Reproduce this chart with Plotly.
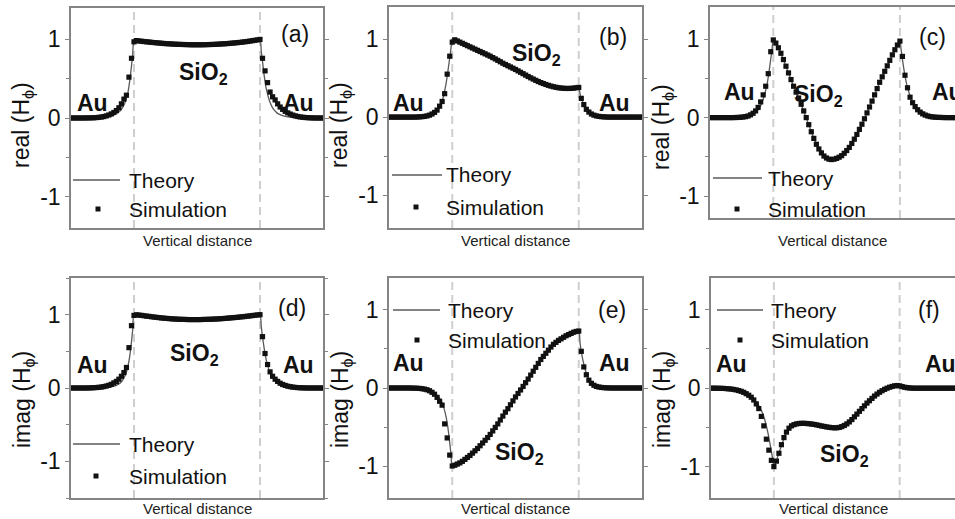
import numpy as np
import plotly.graph_objects as go

W, H = 955, 519

# Vertical cut through Au | SiO2 | Au, interfaces at 1 and 3 (arbitrary units)
sim_x = np.round(np.arange(101) * 0.04, 2)
theory_x = [0, 0.2, 0.4, 0.5, 0.6, 0.7, 0.75, 0.8, 0.85, 0.9, 0.93, 0.96, 0.98, 1.0,
            1.1, 1.2, 1.3, 1.4, 1.5, 1.6, 1.7, 1.8, 1.9, 2.0, 2.1, 2.2, 2.3, 2.4, 2.5,
            2.6, 2.7, 2.8, 2.9,
            3.0, 3.02, 3.04, 3.07, 3.1, 3.15, 3.2, 3.25, 3.3, 3.4, 3.5, 3.6, 3.8, 4.0]

# ---- (a) real(H_phi) ----
sim_a = ([0, 0, 0, 0, 0, 0, 0.001, 0.001, 0.002, 0.003, 0.005, 0.008, 0.012, 0.018,
          0.027, 0.038, 0.052, 0.07, 0.095, 0.13, 0.18, 0.24, 0.29, 0.52, 0.76, 0.97]
         + [0.985, 0.98, 0.977, 0.973, 0.97, 0.966, 0.963, 0.96, 0.957, 0.954,
            0.951, 0.948, 0.946, 0.944, 0.942, 0.94, 0.938, 0.937, 0.936, 0.935,
            0.934, 0.933, 0.932, 0.932, 0.932, 0.932, 0.932, 0.933, 0.934, 0.935,
            0.936, 0.937, 0.939, 0.941, 0.943, 0.945, 0.947, 0.95, 0.953, 0.956,
            0.959, 0.962, 0.966, 0.97, 0.974, 0.979, 0.984, 0.989, 0.994]
         + [1.0, 0.76, 0.60, 0.45, 0.33, 0.27, 0.23, 0.18, 0.14, 0.11, 0.085, 0.065, 0.05,
            0.037, 0.027, 0.019, 0.013, 0.009, 0.006, 0.004, 0.002, 0.001, 0, 0, 0, 0])
theory_a = ([0, 0, 0.003, 0.007, 0.018, 0.045, 0.07, 0.11, 0.18, 0.31, 0.46, 0.66, 0.82, 0.98]
            + [0.978, 0.97, 0.962, 0.954, 0.946, 0.942, 0.938, 0.935, 0.932, 0.932,
               0.932, 0.935, 0.937, 0.943, 0.95, 0.956, 0.966, 0.974, 0.986]
            + [1.0, 0.85, 0.72, 0.52, 0.37, 0.22, 0.13, 0.08, 0.05, 0.02, 0.008, 0.003, 0, 0])

# ---- (b) real(H_phi) ----
sim_b = ([0, 0, 0, 0, 0, 0, 0, 0, 0, 0, 0, 0.001, 0.003, 0.005, 0.009, 0.015, 0.025,
          0.04, 0.06, 0.09, 0.14, 0.20, 0.30, 0.55, 0.78, 0.96]
         + [0.99, 0.975, 0.96, 0.945, 0.93, 0.915, 0.90, 0.885, 0.87, 0.855,
            0.84, 0.825, 0.81, 0.795, 0.78, 0.762, 0.745, 0.727, 0.709, 0.69,
            0.674, 0.658, 0.642, 0.626, 0.61, 0.592, 0.574, 0.556, 0.538, 0.52,
            0.503, 0.487, 0.471, 0.456, 0.442, 0.43, 0.418, 0.407, 0.397, 0.389,
            0.382, 0.376, 0.372, 0.369, 0.367, 0.367, 0.368, 0.371, 0.376]
         + [0.38, 0.24, 0.16, 0.10, 0.065, 0.04, 0.025, 0.015, 0.009, 0.005, 0.003, 0.001,
            0, 0, 0, 0, 0, 0, 0, 0, 0, 0, 0, 0, 0, 0])
theory_b = ([0, 0, 0.001, 0.004, 0.012, 0.035, 0.07, 0.13, 0.23, 0.42, 0.58, 0.76, 0.88, 1.0]
            + [0.965, 0.93, 0.893, 0.855, 0.818, 0.78, 0.735, 0.69, 0.65, 0.61,
               0.565, 0.52, 0.48, 0.442, 0.412, 0.389, 0.374, 0.367, 0.369]
            + [0.38, 0.30, 0.24, 0.18, 0.13, 0.075, 0.045, 0.025, 0.015, 0.004, 0.001, 0, 0, 0])

# ---- (c) real(H_phi) ----
sim_c = ([0, 0, 0, 0, 0, 0, 0, 0, 0, 0, 0.001, 0.002, 0.004, 0.007, 0.012, 0.02, 0.035,
          0.055, 0.085, 0.13, 0.20, 0.29, 0.40, 0.56, 0.84, 0.99]
         + [0.95, 0.89, 0.82, 0.74, 0.655, 0.57, 0.485, 0.40, 0.325, 0.25,
            0.17, 0.085, 0.0, -0.09, -0.18, -0.265, -0.34, -0.40, -0.45, -0.49,
            -0.515, -0.53, -0.535, -0.53, -0.52, -0.505, -0.485, -0.455, -0.42, -0.38,
            -0.33, -0.275, -0.215, -0.15, -0.085, -0.015, 0.06, 0.135, 0.21, 0.29,
            0.37, 0.45, 0.52, 0.59, 0.66, 0.73, 0.80, 0.865, 0.925]
         + [0.975, 0.78, 0.54, 0.38, 0.26, 0.19, 0.14, 0.10, 0.07, 0.048, 0.032, 0.021,
            0.013, 0.008, 0.005, 0.003, 0.002, 0.001, 0, 0, 0, 0, 0, 0, 0, 0])
theory_c = ([0, 0, 0.002, 0.006, 0.018, 0.05, 0.085, 0.15, 0.26, 0.42, 0.57, 0.75, 0.87, 0.99]
            + [0.855, 0.655, 0.44, 0.25, 0.04, -0.18, -0.37, -0.49, -0.535, -0.52,
               -0.47, -0.38, -0.245, -0.085, 0.10, 0.29, 0.485, 0.66, 0.83]
            + [0.975, 0.86, 0.74, 0.58, 0.45, 0.30, 0.20, 0.13, 0.085, 0.035, 0.013, 0.004, 0, 0])

# ---- (d) imag(H_phi) ----
sim_d = ([0, 0, 0, 0, 0, 0, 0, 0.001, 0.002, 0.004, 0.006, 0.009, 0.013, 0.019, 0.027,
          0.037, 0.05, 0.07, 0.09, 0.12, 0.16, 0.21, 0.28, 0.55, 0.85, 0.99]
         + [0.998, 0.994, 0.99, 0.985, 0.98, 0.976, 0.971, 0.967, 0.963, 0.959,
            0.955, 0.952, 0.949, 0.946, 0.943, 0.941, 0.939, 0.937, 0.936, 0.935,
            0.934, 0.933, 0.933, 0.933, 0.933, 0.933, 0.934, 0.935, 0.936, 0.937,
            0.938, 0.94, 0.942, 0.944, 0.946, 0.949, 0.952, 0.955, 0.958, 0.961,
            0.964, 0.968, 0.971, 0.975, 0.979, 0.983, 0.988, 0.992, 0.996]
         + [1.0, 0.70, 0.47, 0.32, 0.22, 0.16, 0.12, 0.09, 0.065, 0.048, 0.035, 0.025, 0.018,
            0.012, 0.008, 0.005, 0.003, 0.002, 0.001, 0, 0, 0, 0, 0, 0, 0])
theory_d = ([0, 0, 0.002, 0.005, 0.012, 0.03, 0.05, 0.085, 0.15, 0.28, 0.42, 0.63, 0.8, 1.0]
            + [0.992, 0.98, 0.969, 0.959, 0.95, 0.943, 0.938, 0.935, 0.933, 0.933,
               0.934, 0.937, 0.941, 0.946, 0.953, 0.961, 0.97, 0.979, 0.99]
            + [1.0, 0.84, 0.70, 0.52, 0.38, 0.23, 0.15, 0.10, 0.065, 0.028, 0.011, 0.004, 0, 0])

# ---- (e) imag(H_phi) ----
sim_e = ([0, 0, 0, 0, 0, 0, 0, 0, 0, -0.001, -0.002, -0.003, -0.005, -0.009, -0.014,
          -0.022, -0.035, -0.055, -0.08, -0.12, -0.17, -0.22, -0.46, -0.64, -0.86, -1.0]
         + [-0.99, -0.975, -0.96, -0.94, -0.915, -0.89, -0.865, -0.835, -0.805, -0.775,
            -0.74, -0.705, -0.67, -0.635, -0.595, -0.55, -0.505, -0.46, -0.41, -0.36,
            -0.31, -0.265, -0.215, -0.165, -0.115, -0.07, -0.025, 0.02, 0.068, 0.115,
            0.165, 0.215, 0.265, 0.315, 0.365, 0.405, 0.445, 0.485, 0.525, 0.56,
            0.585, 0.61, 0.63, 0.65, 0.67, 0.685, 0.70, 0.715, 0.725]
         + [0.73, 0.47, 0.27, 0.17, 0.10, 0.06, 0.035, 0.02, 0.012, 0.007, 0.004, 0.002,
            0.001, 0, 0, 0, 0, 0, 0, 0, 0, 0, 0, 0, 0, 0])
theory_e = ([0, 0, -0.003, -0.01, -0.025, -0.055, -0.085, -0.13, -0.21, -0.36, -0.5, -0.7, -0.85, -1.0]
            + [-0.97, -0.915, -0.85, -0.775, -0.69, -0.595, -0.485, -0.36, -0.24, -0.115,
               -0.002, 0.115, 0.24, 0.365, 0.465, 0.56, 0.62, 0.67, 0.708]
            + [0.73, 0.58, 0.47, 0.34, 0.24, 0.13, 0.07, 0.04, 0.02, 0.006, 0.002, 0, 0, 0])

# ---- (f) imag(H_phi) ----
sim_f = ([0, 0, 0, -0.001, -0.002, -0.003, -0.005, -0.008, -0.011, -0.016, -0.022,
          -0.03, -0.04, -0.053, -0.07, -0.09, -0.115, -0.15, -0.2, -0.26, -0.36, -0.48,
          -0.65, -0.79, -0.92, -1.0]
         + [-0.93, -0.83, -0.72, -0.63, -0.56, -0.51, -0.48, -0.465, -0.455, -0.45,
            -0.448, -0.448, -0.45, -0.453, -0.457, -0.462, -0.468, -0.475, -0.482, -0.488,
            -0.494, -0.499, -0.503, -0.505, -0.505, -0.5, -0.49, -0.475, -0.455, -0.43,
            -0.40, -0.365, -0.33, -0.295, -0.26, -0.225, -0.19, -0.16, -0.13, -0.10,
            -0.075, -0.052, -0.032, -0.015, 0.0, 0.012, 0.022, 0.03, 0.034]
         + [0.03, 0.02, 0.012, 0.006, 0.003, 0.001, 0, 0, 0, 0, 0, 0, 0, 0, 0, 0, 0, 0,
            0, 0, 0, 0, 0, 0, 0, 0])
theory_f = ([0, -0.002, -0.02, -0.045, -0.09, -0.16, -0.21, -0.28, -0.39, -0.55, -0.67, -0.81, -0.9, -1.0]
            + [-0.78, -0.56, -0.47, -0.45, -0.449, -0.457, -0.472, -0.488, -0.501, -0.505,
               -0.483, -0.43, -0.348, -0.26, -0.175, -0.10, -0.042, 0.0, 0.028]
            + [0.035, 0.035, 0.035, 0.033, 0.03, 0.025, 0.02, 0.014, 0.01, 0.004, 0.001, 0, 0, 0])

interfaces = [1.0, 3.0]
y_ticks = [-1, 0, 1]
y_tick_text = ["-1", "0", "1"]

FRAME = "#858585"
DASH = "#cfcfcf"
INK = "#111111"
LINE_GREY = "#5a5a5a"
SANS = "Liberation Sans, Arial, sans-serif"


def px(x):
    return x / W


def py(y):
    return 1 - y / H


# Panel boxes in pixels: left, right, top, bottom
panels = [
    dict(tag="(a)", sim=sim_a, th=theory_a, box=(71, 323, 8, 228), yr=[-1.4, 1.4], xr=[0, 4],
         ylab="real", edge=False,
         tag_at=(295, 34), au_l=(92, 103), au_r=(298, 103, "center"), sio2=(177, 74),
         leg=(73, 120, 180, 98, 209, 127), ytitle_y=125, xtitle_y=240),
    dict(tag="(b)", sim=sim_b, th=theory_b, box=(389, 642, 7, 228), yr=[-1.42, 1.41], xr=[0, 4],
         ylab="real", edge=False,
         tag_at=(613, 37), au_l=(408, 103), au_r=(614, 103, "center"), sio2=(510, 54),
         leg=(392, 442, 175, 416, 207, 444), ytitle_y=125, xtitle_y=240),
    dict(tag="(c)", sim=sim_c, th=theory_c, box=(710, 955, 7, 218), yr=[-1.28, 1.41], xr=[0, 3.87],
         ylab="real", edge=True,
         tag_at=(932, 37), au_l=(739, 92), au_r=(930, 92, "left"), sio2=(792, 95),
         leg=(713, 762, 178, 737, 209, 766), ytitle_y=127, xtitle_y=240),
    dict(tag="(d)", sim=sim_d, th=theory_d, box=(71, 323, 278, 498), yr=[-1.5, 1.5], xr=[0, 4],
         ylab="imag", edge=False,
         tag_at=(292, 308), au_l=(92, 365), au_r=(298, 365, "center"), sio2=(168, 354),
         leg=(73, 120, 444, 96, 476, 127), ytitle_y=400, xtitle_y=508),
    dict(tag="(e)", sim=sim_e, th=theory_e, box=(389, 642, 278, 498), yr=[-1.41, 1.41], xr=[0, 4],
         ylab="imag", edge=False,
         tag_at=(612, 310), au_l=(408, 363), au_r=(614, 363, "center"), sio2=(493, 453),
         leg=(393, 440, 310, 417, 340, 446), ytitle_y=400, xtitle_y=508),
    dict(tag="(f)", sim=sim_f, th=theory_f, box=(711, 955, 278, 498), yr=[-1.4, 1.405], xr=[0, 3.88],
         ylab="imag", edge=True,
         tag_at=(929, 310), au_l=(731, 364), au_r=(923, 364, "left"), sio2=(818, 455),
         leg=(717, 763, 310, 740, 340, 769), ytitle_y=400, xtitle_y=508),
]

fig = go.Figure()
shapes = []
annotations = []
layout = {}


def text(t, x, y, size, family=SANS, xanchor="center", yanchor="middle", angle=0, color=INK):
    annotations.append(dict(
        text=t, x=px(x), y=py(y), xref="paper", yref="paper",
        xanchor=xanchor, yanchor=yanchor, showarrow=False, textangle=angle,
        font=dict(family=family, size=size, color=color)))


for k, p in enumerate(panels, start=1):
    sfx = "" if k == 1 else str(k)
    xa, ya = "x" + sfx, "y" + sfx
    left, right, top, bottom = p["box"]

    fig.add_trace(go.Scatter(
        x=theory_x, y=p["th"], xaxis=xa, yaxis=ya, mode="lines",
        line=dict(color=LINE_GREY, width=1.3, shape="spline", smoothing=0.6),
        showlegend=False, hoverinfo="skip"))
    fig.add_trace(go.Scatter(
        x=sim_x, y=p["sim"], xaxis=xa, yaxis=ya, mode="markers",
        marker=dict(symbol="square", size=5.2, color=INK, line=dict(width=0)),
        showlegend=False, hoverinfo="skip"))

    layout["xaxis" + sfx] = dict(
        domain=[px(left), px(right)], anchor=ya, range=p["xr"],
        showticklabels=False, ticks="", showgrid=False, zeroline=False,
        showline=True, linecolor=FRAME, linewidth=1.5, mirror=True, fixedrange=True)
    layout["yaxis" + sfx] = dict(
        domain=[py(bottom), py(top)], anchor=xa, range=p["yr"],
        tickmode="array", tickvals=y_ticks, ticktext=y_tick_text,
        ticks="outside", ticklen=4, tickwidth=1.3, tickcolor=FRAME,
        minor=dict(dtick=0.5, tick0=0, ticks="outside", ticklen=3, tickwidth=1.2, tickcolor=FRAME),
        tickfont=dict(family=SANS, size=23, color=INK),
        showgrid=False, zeroline=False, showline=True, linecolor=FRAME, linewidth=1.5,
        mirror=False if p["edge"] else "ticks", fixedrange=True)

    # material interfaces
    for xi in interfaces:
        shapes.append(dict(type="line", xref=xa, yref=ya + " domain", x0=xi, x1=xi, y0=0, y1=1,
                           line=dict(color=DASH, width=2, dash="8px,5px"), layer="below"))

    # in-panel key
    lx0, lx1, ly, mx, my, tx = p["leg"]
    shapes.append(dict(type="line", xref="paper", yref="paper",
                       x0=px(lx0), x1=px(lx1), y0=py(ly), y1=py(ly),
                       line=dict(color=LINE_GREY, width=1.3)))
    shapes.append(dict(type="rect", xref="paper", yref="paper",
                       x0=px(mx - 2.5), x1=px(mx + 2.5), y0=py(my - 2.5), y1=py(my + 2.5),
                       fillcolor=INK, line=dict(width=0)))
    text("Theory", tx, ly, 21, xanchor="left")
    text("Simulation", tx, my, 21, xanchor="left")

    # labels
    text(p["tag"], p["tag_at"][0], p["tag_at"][1], 23)
    text("<b>Au</b>", p["au_l"][0], p["au_l"][1], 23)
    text("<b>Au</b>", p["au_r"][0], p["au_r"][1], 23, xanchor=p["au_r"][2])
    text("<b>SiO<sub>2</sub></b>", p["sio2"][0], p["sio2"][1], 23, xanchor="left")

    text(p["ylab"] + " (H<sub>ϕ</sub>)", left - 48, p["ytitle_y"], 23, angle=-90)
    text("Vertical distance", (left + min(right, left + 253)) / 2, p["xtitle_y"], 15, color="#222222")

fig.update_layout(
    width=W, height=H, margin=dict(l=0, r=0, t=0, b=0),
    paper_bgcolor="white", plot_bgcolor="white",
    shapes=shapes, annotations=annotations, showlegend=False,
    **layout)

fig.write_html("out.html")
